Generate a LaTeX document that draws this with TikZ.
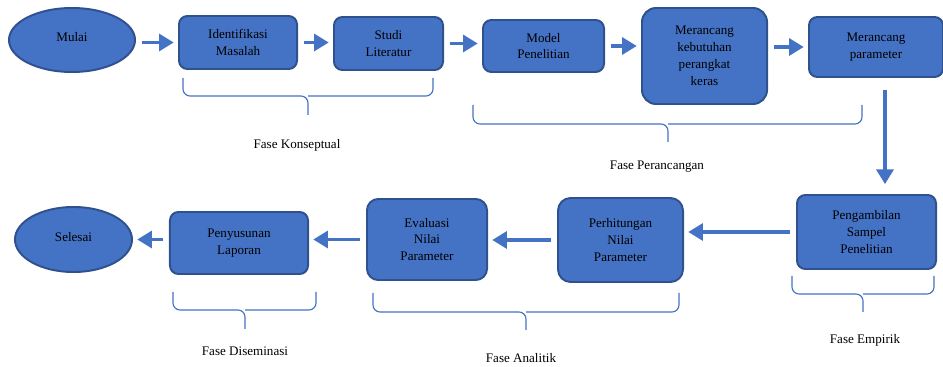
\documentclass[tikz,border=0pt]{standalone}
\usepackage{fontspec}
\setmainfont{Liberation Serif}
\usetikzlibrary{arrows.meta,positioning}
\usetikzlibrary{shapes.geometric}
\definecolor{boxblue}{HTML}{4472C4}
\definecolor{edgeblue}{HTML}{2F528F}

\begin{document}
\begin{tikzpicture}[x=0.025cm, y=-0.025cm, font=\fontsize{9.3}{12}\selectfont]
\useasboundingbox (0,0) rectangle (943,367);
\tikzstyle{flow}=[draw=boxblue, line width=2.6pt, shorten <=4pt, shorten >=3pt, -{Triangle[length=10.5pt,width=12pt]}]
\tikzstyle{brace}=[draw=boxblue, line width=.8pt, rounded corners=5pt]
\begin{scope}
\tikzstyle{every node}=[draw=edgeblue, fill=boxblue, line width=1.4pt, align=center, inner sep=1pt] %%
\tikzstyle{box}=[rectangle, rounded corners=6pt] %%
\node[ellipse, minimum width=3.15cm, minimum height=1.6cm] (mulai) at (72,40) {\raisebox{4pt}{Mulai}}; %%
\node[box, minimum width=2.95cm, minimum height=1.325cm] (ident) at (238,42.5) {Identifikasi\\Masalah}; %%
\node[box, minimum width=2.725cm, minimum height=1.325cm] (studi) at (388.5,43.5) {Studi\\Literatur}; %%
\node[box, minimum width=3.025cm, minimum height=1.3cm] (model) at (543.5,46) {Model\\Penelitian}; %%
\node[box, rounded corners=10pt, minimum width=3.125cm, minimum height=2.4cm] (kebutuhan) at (704.5,56) {Merancang\\kebutuhan\\perangkat\\keras}; %%
\node[box, minimum width=3.35cm, minimum height=1.5cm] (param) at (876,47) {Merancang\\parameter}; %%
\node[box, minimum width=3.475cm, minimum height=1.85cm] (ambil) at (866.5,232) {Pengambilan\\Sampel\\Penelitian}; %%
\node[box, rounded corners=9pt, minimum width=3.125cm, minimum height=2.1cm] (hitung) at (620.5,240) {Perhitungan\\Nilai\\Parameter}; %%
\node[box, rounded corners=8pt, minimum width=3cm, minimum height=2.025cm] (evaluasi) at (427,239.5) {Evaluasi\\Nilai\\Parameter}; %%
\node[box, minimum width=3.45cm, minimum height=1.55cm] (susun) at (239,243) {Penyusunan\\Laporan}; %%
\node[ellipse, minimum width=2.925cm, minimum height=1.625cm] (selesai) at (73.5,239.5) {\raisebox{4pt}{Selesai}}; %%
\end{scope}
% alur atas
\draw[flow] (mulai.east |- ident.west) -- (ident.west); %%
\draw[flow] (ident.east) -- (ident.east -| studi.west); %%
\draw[flow] (studi.east) -- (studi.east -| model.west); %%
\draw[flow] (model.east) -- (model.east -| kebutuhan.west); %%
\draw[flow] (kebutuhan.east |- param.west) -- (param.west); %%
\draw[flow, shorten <=8.5pt, shorten >=7pt] ([xshift=6.4pt]param.south) -- ([xshift=6.4pt]param.south |- ambil.north); %%
% alur bawah
\draw[flow] (ambil.west) -- (ambil.west -| hitung.east); %%
\draw[flow] (hitung.west) -- (hitung.west -| evaluasi.east); %%
\draw[flow] (evaluasi.west) -- (evaluasi.west -| susun.east); %%
\draw[flow] (susun.west |- selesai.east) -- (selesai.east); %%
% kurung fase
\draw[brace] (183,78) -- (183,96) -- (308,96) -- (308,115); %%
\draw[brace] (433,78) -- (433,96) -- (308,96); %%
\node (konseptual) at (297,145) {Fase Konseptual}; %%
\draw[brace] (473,105) -- (473,124) -- (668,124) -- (668,142); %%
\draw[brace] (862,105) -- (862,124) -- (668,124); %%
\node (perancangan) at (657,167) {Fase Perancangan}; %%
\draw[brace] (792,276) -- (792,294) -- (863,294) -- (863,312); %%
\draw[brace] (934,276) -- (934,294) -- (863,294); %%
\node (empirik) at (865,340) {Fase Empirik}; %%
\draw[brace] (373,293) -- (373,312) -- (526,312) -- (526,330); %%
\draw[brace] (679,293) -- (679,312) -- (526,312); %%
\node (analitik) at (521,358) {Fase Analitik}; %%
\draw[brace] (173,292) -- (173,310) -- (245,310) -- (245,329); %%
\draw[brace] (316,292) -- (316,310) -- (245,310); %%
\node (diseminasi) at (245,351) {Fase Diseminasi}; %%
\end{tikzpicture}
\end{document}
